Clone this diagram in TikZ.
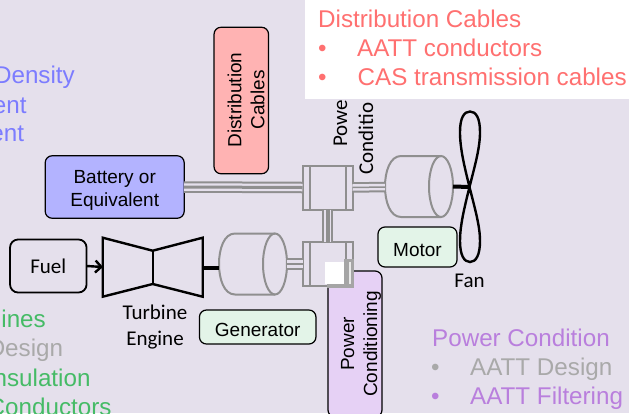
\documentclass[tikz,border=0pt]{standalone}
\usepackage{fontspec}
\setmainfont{Liberation Sans}
\newfontfamily\calibrifont{Carlito}
\usetikzlibrary{arrows.meta,positioning,shapes.geometric}
\definecolor{pagebg}{HTML}{E5E0EC}
\definecolor{batteryblue}{HTML}{B3B3FF}
\definecolor{cablered}{HTML}{FFB3B3}
\definecolor{pclilac}{HTML}{E6D1F5}
\definecolor{machinegreen}{HTML}{E3F4E8}
\definecolor{redtext}{HTML}{FF7070}
\definecolor{bluetext}{HTML}{7C7CFF}
\definecolor{greentext}{HTML}{45BB66}
\definecolor{lilactext}{HTML}{B97FDD}
\definecolor{greytext}{HTML}{A9A9A9}
\definecolor{linegrey}{HTML}{8F8F8F}
\newcommand{\boxstrut}{\rule{0pt}{20pt}}

\begin{document}
\begin{tikzpicture}[
    x=1pt,y=-1pt,
    box/.style={rectangle,draw=black,line width=1.2pt,rounded corners=7pt,inner sep=0pt,outer sep=0pt,align=center,font=\fontsize{19}{22.5}\selectfont},
    sidetext/.style={inner sep=0pt,align=center,rotate=90,font=\fontsize{19}{23}\selectfont},
    caption/.style={inner sep=0pt,align=center,font=\calibrifont\fontsize{21}{26.5}\selectfont},
    listtext/.style={inner sep=0pt,anchor=base west,font=\fontsize{24.2}{29}\selectfont},
    cuttext/.style={inner sep=0pt,anchor=base east,font=\fontsize{24.2}{29}\selectfont},
    conv/.style={rectangle,draw=linegrey,line width=2pt,fill=pagebg,minimum width=50pt,minimum height=44pt,inner sep=0pt,outer sep=0pt},
    cable/.style={draw=linegrey,line width=2pt,double=pagebg,double distance=7.5pt},
    cablemid/.style={draw=linegrey,line width=3pt},
    machine/.style={draw=linegrey,line width=2pt},
    machineend/.style={ellipse,draw=linegrey,line width=2pt,minimum width=24pt,minimum height=61pt,inner sep=0pt,outer sep=0pt},
    shaft/.style={draw=black,line width=4pt},
    solid/.style={draw=black,line width=2.4pt,line join=miter},
    arrow/.style={draw=black,line width=2.4pt,-{Straight Barb[length=6pt,width=12pt]}}
]
    \useasboundingbox (0,0) rectangle (629,413);
    \clip (0,0) rectangle (629,413);
    \fill[pagebg] (0,0) rectangle (629,413);

    \node[box,minimum width=139pt,minimum height=62.5pt,fill=batteryblue] (battery) at (114.7,187) {\boxstrut Battery or\\Equivalent};
    \node[box,draw=black,line width=1.8pt,rounded corners=8pt,minimum width=76.5pt,minimum height=53pt,font=\calibrifont\fontsize{21}{26}\selectfont] (fuel) at (48.3,266) {Fuel};

    % power conditioning tag goes under the lower converter
    \node[box,minimum width=146pt,minimum height=54pt,fill=pclilac,rotate=90] (pcbox) at (355,344) {};
    \node[sidetext] (pctext) at (361,344) {Power\\Conditioning};

    \node[conv] (pcupper) at (327.5,187.5) {};
    \node[conv,below=32.5pt of pcupper] (pclower) {};
    \foreach \n in {pcupper,pclower} {
        \draw[machine] (\n.north west) ++(7,0) -- ++(0,44);
        \draw[machine] (\n.north east) ++(-7,0) -- ++(0,44);
    }
    % patch left over on the lower converter
    \fill[white] (325,262) rectangle (344,284);
    \fill[linegrey!80] (344,259) rectangle (354,288);
    \fill[linegrey!80] (327,284) rectangle (354,288);
    \fill[white!80!linegrey] (349,262) rectangle (351,284);

    % machines
    \node[machineend] (motorend) at (441,186.5) {};
    \node[machineend] (genend) at (275,264) {};
    \foreach \n in {motorend,genend} {
        \draw[machine] (\n.north) -- ++(-40,0) .. controls +(-11,0) and +(0,-15) .. ++(-16,30.5) .. controls +(0,15) and +(-11,0) .. ++(16,30.5) -- (\n.south);
    }
    \coordinate (motorback) at (385,187);
    \coordinate (genback) at (219,267.5);
    \coordinate (enginefront) at (103,267);
    \coordinate (engineback) at (203,267.5);
    \coordinate (fanhub) at (469.5,187);

    % cables
    \draw[cable] (battery.east) -- (pcupper.west);
    \draw[cablemid] (battery.east) -- (pcupper.west);
    \draw[cable] (pcupper.south) -- (pclower.north);
    \draw[cablemid,line width=4pt] (pcupper.south) -- (pclower.north);
    \draw[cable,double distance=6.5pt] (pcupper.east) -- (motorback);
    \draw[cablemid,line width=1.5pt] (pcupper.east) -- (motorback);
    \draw[cable] (genend.east) -- (pclower.west);
    \draw[cablemid,line width=2pt] (genend.east) -- (pclower.west);

    % turbine and fan
    \draw[solid] (102.7,237.7) -- (152.7,250.7) -- (202.7,237.7) -- (202.7,296.7) -- (152.7,284) -- (102.7,296.7) -- cycle;
    \draw[solid] (152.7,250.7) -- (152.7,284);
    \draw[arrow] (fuel.east) -- (enginefront);
    \draw[shaft] (engineback) -- (genback);
    \draw[shaft] (motorend.east) -- (fanhub);
    \draw[solid] (fanhub) .. controls (464,165) and (460,148) .. (460,132) .. controls (460,118) and (464,111.5) .. (470,111.5) .. controls (476,111.5) and (480,118) .. (480,132) .. controls (480,148) and (475,165) .. (fanhub);
    \draw[solid] (fanhub) .. controls (464,209) and (460,226) .. (460,241) .. controls (460,255) and (464,262) .. (470,262) .. controls (476,262) and (480,255) .. (480,241) .. controls (480,226) and (475,209) .. (fanhub);

    % tags
    \node[box,minimum width=146.5pt,minimum height=54.5pt,fill=cablered,rotate=90] (cables) at (241.3,100.5) {};
    \node[sidetext] (cablestext) at (246,100) {Distribution\\Cables};
    \node[box,minimum width=79pt,minimum height=40pt,fill=machinegreen] (motor) at (417.5,247) {\boxstrut Motor};
    \node[box,minimum width=116.5pt,minimum height=34pt,fill=machinegreen] (generator) at (257.7,327) {\boxstrut Generator};

    % captions
    \node[caption] (enginetext) at (155,327) {Turbine\\Engine};
    \node[caption] (fantext) at (469.5,281) {Fan};
    \node[caption,rotate=90,anchor=base west] (pctopa) at (347,147) {Powe};
    \node[caption,rotate=90,anchor=base west] (pctopb) at (373,175) {Conditio};

    % white panel
    \fill[white] (305,0) rectangle (629,99);
    \node[listtext,text=redtext] (redhead) at (318,27) {Distribution Cables};
    \node[listtext,text=redtext] (redbulleta) at (318,56.7) {•};
    \node[listtext,text=redtext] (redone) at (357,56.7) {AATT conductors};
    \node[listtext,text=redtext] (redbulletb) at (318,85.5) {•};
    \node[listtext,text=redtext] (redtwo) at (357.5,85.5) {CAS transmission cables};

    % lists cut by the page
    \node[cuttext,text=bluetext] (bluea) at (75,83) {Density};
    \node[cuttext,text=bluetext] (blueb) at (26.7,113) {ent};
    \node[cuttext,text=bluetext] (bluec) at (24.3,141.7) {ent};
    \node[cuttext,text=greentext] (greena) at (46,327.7) {ines};
    \node[cuttext,text=greytext] (greenb) at (63.3,356.7) {Design};
    \node[cuttext,text=greentext] (greenc) at (90.7,386) {nsulation};
    \node[cuttext,text=greentext] (greend) at (111.7,415) {Conductors};

    \node[listtext,text=lilactext] (pchead) at (432,346) {Power Condition};
    \node[listtext,text=greytext] (pcbulleta) at (431,375) {•};
    \node[listtext,text=greytext] (pcone) at (470,375) {AATT Design};
    \node[listtext,text=lilactext] (pcbulletb) at (431,404) {•};
    \node[listtext,text=lilactext] (pctwo) at (470,404) {AATT Filtering};
\end{tikzpicture}
\end{document}
